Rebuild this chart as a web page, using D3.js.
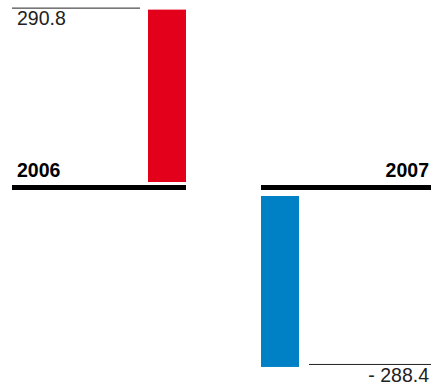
<!DOCTYPE html>
<html>
<head>
<meta charset="utf-8">
<script src="https://cdn.jsdelivr.net/npm/d3@7/dist/d3.min.js"></script>
<style>
  html, body { margin: 0; padding: 0; background: #fff; }
  svg { display: block; }
  text { font-family: "Liberation Sans", Arial, Helvetica, sans-serif; }
</style>
</head>
<body>
<svg id="chart" width="431" height="387"></svg>
<script>
// Annual result, two years
const years = ["2006", "2007"];
const values = [290.8, -288.4];
const valueLabels = ["290.8", "- 288.4"];
const barColors = ["#e2001a", "#0081c6"];

const svg = d3.select("#chart");

// One shared magnitude scale for both panels
const h = d3.scaleLinear().domain([0, 291]).range([0, 172.5]);

// Panel geometry: 2006 sits above its baseline on the left, 2007 hangs below on the right
const panels = [
  { x0: 12, x1: 186, base: 187.5, barX: 148, barW: 38, dir: -1, gap: 5.5 },
  { x0: 261, x1: 431, base: 187.5, barX: 261, barW: 38, dir: 1, gap: 8.5 }
];

years.forEach((yr, i) => {
  const p = panels[i];
  const v = values[i];
  const len = h(Math.abs(v));
  const start = p.base + p.dir * p.gap;
  const end = start + p.dir * len;

  // bar
  svg.append("rect")
    .attr("x", p.barX)
    .attr("y", Math.min(start, end))
    .attr("width", p.barW)
    .attr("height", len)
    .attr("fill", barColors[i]);

  // thick baseline
  svg.append("line")
    .attr("x1", p.x0).attr("x2", p.x1)
    .attr("y1", p.base).attr("y2", p.base)
    .attr("stroke", "#000").attr("stroke-width", 5);

  // year label
  svg.append("text")
    .attr("x", i === 0 ? 17 : 429)
    .attr("y", 177)
    .attr("text-anchor", i === 0 ? "start" : "end")
    .attr("font-size", 19.5)
    .attr("font-weight", "bold")
    .attr("fill", "#000")
    .text(yr);

  // value rule at the bar's end, with value label
  if (i === 0) {
    svg.append("line")
      .attr("x1", 12).attr("x2", 140)
      .attr("y1", end - 1.5).attr("y2", end - 1.5)
      .attr("stroke", "#222").attr("stroke-width", 1);
    svg.append("text")
      .attr("x", 17).attr("y", end + 15.5)
      .attr("font-size", 19.5)
      .attr("fill", "#222")
      .text(valueLabels[i]);
  } else {
    svg.append("line")
      .attr("x1", 309).attr("x2", 431)
      .attr("y1", end - 2.5).attr("y2", end - 2.5)
      .attr("stroke", "#222").attr("stroke-width", 1);
    svg.append("text")
      .attr("x", 429).attr("y", end + 15.5)
      .attr("text-anchor", "end")
      .attr("font-size", 19.5)
      .attr("fill", "#222")
      .text(valueLabels[i]);
  }
});
</script>
</body>
</html>
